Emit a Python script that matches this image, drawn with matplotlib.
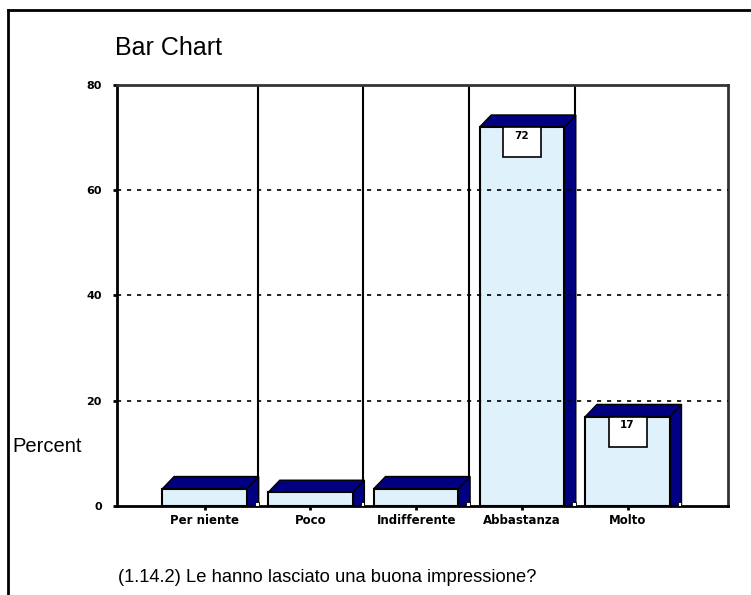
import matplotlib
matplotlib.use('Agg')
import matplotlib.pyplot as plt
from matplotlib.patches import Polygon, Rectangle
from matplotlib.lines import Line2D

categories = ['Per niente', 'Poco', 'Indifferente', 'Abbastanza', 'Molto']
percent = [3.3, 2.6, 3.3, 72, 17]
value_labels = ['', '', '', '72', '17']
yticks = [0, 20, 40, 60, 80]
ytick_labels = ['0', '20', '40', '60', '80']
title = 'Bar Chart'
ylabel = 'Percent'
caption = '(1.14.2) Le hanno lasciato una buona impressione?'

FRONT = '#DFF2FC'
NAVY = '#000080'

W, H = 751, 595
fig = plt.figure(figsize=(W / 100, H / 100), dpi=100)
ax = fig.add_axes([117 / W, 89 / H, 611 / W, 421 / H])
ax.set_xlim(-0.83, 4.95)
ax.set_ylim(0, 80)

half = 0.40
dx = 0.11
dy = 2.3

for i, (h, lab) in enumerate(zip(percent, value_labels)):
    x0, x1 = i - half, i + half
    ax.add_patch(Polygon([(x1, 0), (x1, h), (x1 + dx, h + dy), (x1 + dx, 0)],
                         closed=True, fc=NAVY, ec='black', lw=1.0, zorder=3))
    ax.add_patch(Polygon([(x0, h), (x0 + dx, h + dy), (x1 + dx, h + dy), (x1, h)],
                         closed=True, fc=NAVY, ec='black', lw=1.0, zorder=3))
    ax.add_patch(Rectangle((x1 + dx - 0.035, 0), 0.035, 0.7, fc='white',
                           ec='black', lw=0.6, zorder=3.5))
    ax.add_patch(Rectangle((x0, 0), 2 * half, h, fc=FRONT, ec='black',
                           lw=1.5, zorder=3.2))
    if lab:
        ax.add_patch(Rectangle((i - 0.18, h - 5.7), 0.36, 5.7, fc='white',
                               ec='black', lw=1.2, zorder=5))
        ax.text(i, h - 0.7, lab, ha='center', va='top', fontsize=7.5,
                fontweight='bold', family='DejaVu Sans', zorder=6)

for i in range(len(categories) - 1):
    ax.axvline(i + 0.5, color='black', lw=1.5, zorder=2)

for y in yticks[1:-1]:
    ax.axhline(y, color='black', lw=1.2, ls=(0, (2.5, 3.5)), zorder=4)

for s in ['left', 'bottom']:
    ax.spines[s].set_linewidth(2)
    ax.spines[s].set_color('black')
for s in ['top', 'right']:
    ax.spines[s].set_linewidth(2)
    ax.spines[s].set_color('#333333')

ax.set_yticks(yticks)
ax.set_yticklabels(ytick_labels, fontsize=8, fontweight='bold', family='DejaVu Sans')
ax.set_xticks(range(len(categories)))
ax.set_xticklabels(categories, fontsize=8.5, fontweight='bold', family='DejaVu Sans')
ax.tick_params(axis='both', length=3, width=2, color='black', pad=3)
ax.tick_params(axis='y', pad=8)

fig.text(115 / W, 1 - 48 / H, title, fontsize=18, va='center', ha='left',
         family='Liberation Sans')
fig.text(12 / W, 1 - 446 / H, ylabel, fontsize=14.5, va='center', ha='left',
         family='Liberation Sans')
fig.text(118 / W, 1 - 577 / H, caption, fontsize=13.2, va='center', ha='left',
         family='Liberation Sans')

fig.add_artist(Line2D([8 / W, 8 / W], [0, 1 - 10 / H], color='black', lw=2,
                      transform=fig.transFigure))
fig.add_artist(Line2D([8 / W, 1], [1 - 10 / H, 1 - 10 / H], color='black', lw=2,
                      transform=fig.transFigure))

fig.savefig('out.png', dpi=100)
